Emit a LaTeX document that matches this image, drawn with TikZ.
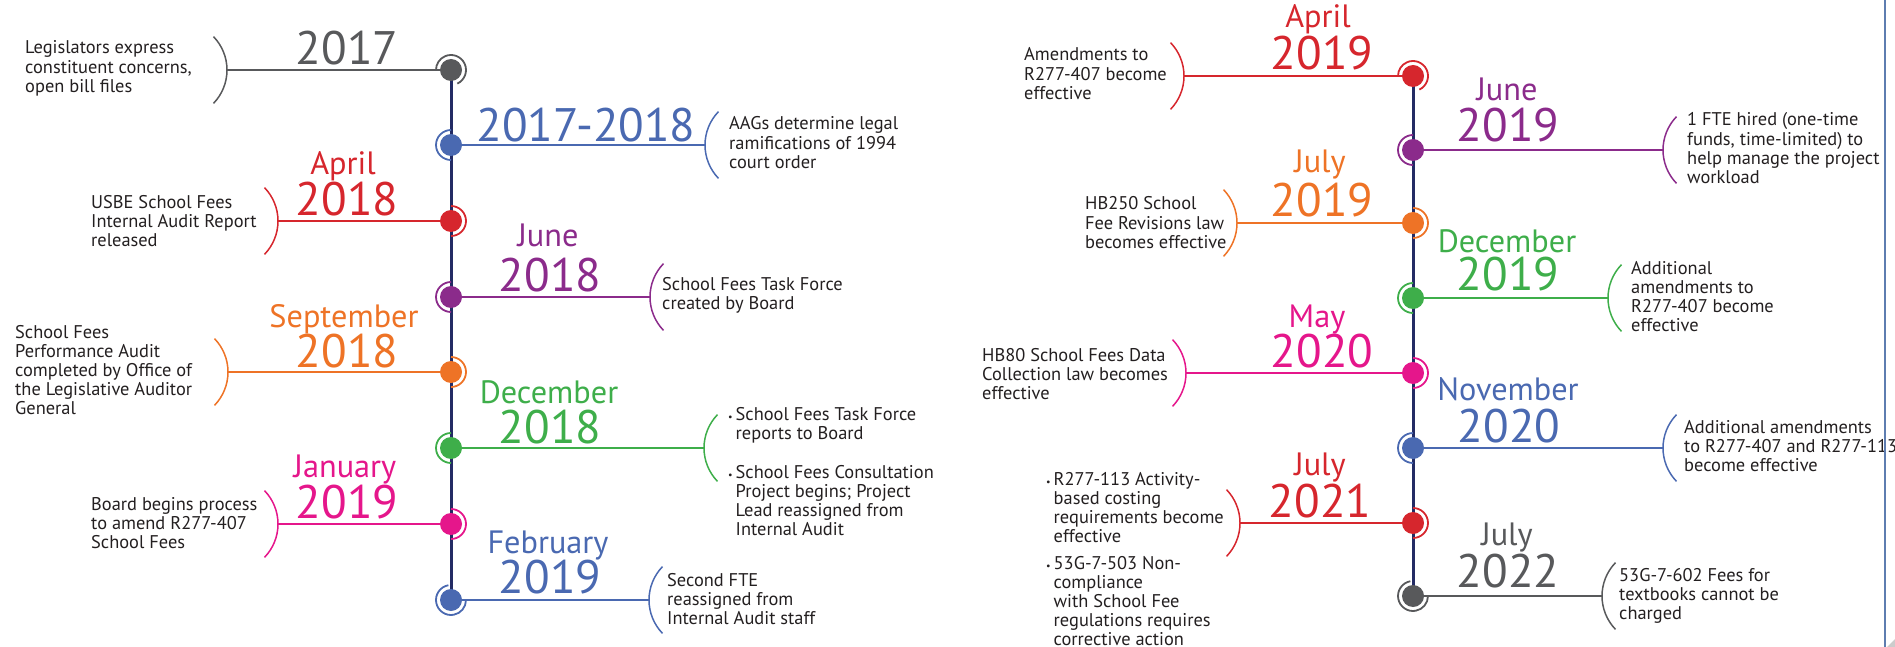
\documentclass[tikz,border=0pt]{standalone}
\usepackage{fontspec}
\setmainfont{PT Sans}
\usetikzlibrary{backgrounds}
\definecolor{cgray}{HTML}{58595B}
\definecolor{cblue}{HTML}{4A69B1}
\definecolor{cred}{HTML}{D6262D}
\definecolor{cpurple}{HTML}{8B2B8B}
\definecolor{corange}{HTML}{EE7326}
\definecolor{cgreen}{HTML}{3EAE4A}
\definecolor{cmag}{HTML}{E5168B}
\definecolor{cnavy}{HTML}{232B64}
\definecolor{ctxt}{HTML}{231F20}
\definecolor{cedge}{HTML}{5E7DB0}
\newcommand{\brR}[2]{%
  \draw[bracket=#2] (#1) arc[start angle=0,end angle=44,radius=48];
  \draw[bracket=#2] (#1) arc[start angle=0,end angle=-44,radius=48];}
\newcommand{\brL}[2]{%
  \draw[bracket=#2] (#1) arc[start angle=180,end angle=136,radius=48];
  \draw[bracket=#2] (#1) arc[start angle=180,end angle=224,radius=48];}
\newcommand{\bul}{\makebox[7.5pt][l]{\fontsize{10}{10}\selectfont\textbullet}}
\begin{document}
\begin{tikzpicture}[x=1pt,y=1pt,
  dot/.style={circle,fill=#1,minimum size=22pt,inner sep=0pt},
  conn/.style={draw=#1,line width=1.5pt},
  bracket/.style={draw=#1,line width=1.5pt},
  ringst/.style={draw=#1,line width=1.8pt},
  axisline/.style={draw=cnavy,line width=3pt},
  year/.style={text=#1,font=\fontsize{47}{47}\selectfont,anchor=base,inner sep=0pt},
  month/.style={text=#1,font=\fontsize{32.3}{32.3}\selectfont,anchor=base,inner sep=0pt},
  desc/.style={text=ctxt,font=\fontsize{18.4}{19.1}\selectfont,anchor=base west,inner sep=0pt}]
\useasboundingbox (0,0) rectangle (1895,-647);

% ---------------- LEFT TIMELINE ----------------
\node[dot=cgray]   (d1) at (451,-70) {};
\node[dot=cblue]   (d2) at (451,-145) {};
\node[dot=cred]    (d3) at (451,-221) {};
\node[dot=cpurple] (d4) at (451,-297) {};
\node[dot=corange] (d5) at (451,-372) {};
\node[dot=cgreen]  (d6) at (451,-448) {};
\node[dot=cmag]    (d7) at (451,-524) {};
\node[dot=cblue]   (d8) at (451,-600) {};

\coordinate (b1) at (227,-70);
\coordinate (b2) at (705,-145);
\coordinate (b3) at (278,-221);
\coordinate (b4) at (650,-297);
\coordinate (b5) at (228,-372);
\coordinate (b6) at (704,-448);
\coordinate (b7) at (278,-524);
\coordinate (b8) at (649,-600);

% ---------------- RIGHT TIMELINE ----------------
\node[dot=cred]    (r1) at (1413,-76) {};
\node[dot=cpurple] (r2) at (1413,-150) {};
\node[dot=corange] (r3) at (1413,-223) {};
\node[dot=cgreen]  (r4) at (1413,-298) {};
\node[dot=cmag]    (r5) at (1413,-373) {};
\node[dot=cblue]   (r6) at (1413,-448) {};
\node[dot=cred]    (r7) at (1413,-523) {};
\node[dot=cgray]   (r8) at (1413,-596) {};

\coordinate (c1) at (1184,-76);
\coordinate (c2) at (1663,-150);
\coordinate (c3) at (1237,-223);
\coordinate (c4) at (1608,-298);
\coordinate (c5) at (1186,-373);
\coordinate (c6) at (1663,-448);
\coordinate (c7) at (1240,-523);
\coordinate (c8) at (1602,-596);

\begin{pgfonlayer}{background}
  \draw[axisline] (d1.center) -- (d8.center);
  \draw[axisline] (r1.center) -- (r8.center);
  \draw[conn=cgray]   (d1.center) -- (b1);
  \draw[conn=cblue]   (d2.center) -- (b2);
  \draw[conn=cred]    (d3.center) -- (b3);
  \draw[conn=cpurple] (d4.center) -- (b4);
  \draw[conn=corange] (d5.center) -- (b5);
  \draw[conn=cgreen]  (d6.center) -- (b6);
  \draw[conn=cmag]    (d7.center) -- (b7);
  \draw[conn=cblue]   (d8.center) -- (b8);
  \draw[conn=cred]    (r1.center) -- (c1);
  \draw[conn=cpurple] (r2.center) -- (c2);
  \draw[conn=corange] (r3.center) -- (c3);
  \draw[conn=cgreen]  (r4.center) -- (c4);
  \draw[conn=cmag]    (r5.center) -- (c5);
  \draw[conn=cblue]   (r6.center) -- (c6);
  \draw[conn=cred]    (r7.center) -- (c7);
  \draw[conn=cgray]   (r8.center) -- (c8);
\end{pgfonlayer}

% brackets
\brR{b1}{cgray} \brL{b2}{cblue} \brR{b3}{cred} \brL{b4}{cpurple}
\brR{b5}{corange} \brL{b6}{cgreen} \brR{b7}{cmag} \brL{b8}{cblue}
\brR{c1}{cred} \brL{c2}{cpurple} \brR{c3}{corange} \brL{c4}{cgreen}
\brR{c5}{cmag} \brL{c6}{cblue} \brR{c7}{cred} \brL{c8}{cgray}

% rings
\draw[ringst=cgray]   (d1.center) ++(-65:15) arc[start angle=-65,end angle=180,radius=15];
\draw[ringst=cblue]   (d2.center) ++(90:15) arc[start angle=90,end angle=270,radius=15];
\draw[ringst=cred]    (d3.center) ++(90:15) arc[start angle=90,end angle=-90,radius=15];
\draw[ringst=cpurple] (d4.center) ++(90:15) arc[start angle=90,end angle=270,radius=15];
\draw[ringst=corange] (d5.center) ++(90:15) arc[start angle=90,end angle=-90,radius=15];
\draw[ringst=cgreen]  (d6.center) ++(90:15) arc[start angle=90,end angle=270,radius=15];
\draw[ringst=cmag]    (d7.center) ++(90:15) arc[start angle=90,end angle=-90,radius=15];
\draw[ringst=cblue]   (d8.center) ++(100:15) arc[start angle=100,end angle=360,radius=15];
\draw[ringst=cred]    (r1.center) ++(-65:15) arc[start angle=-65,end angle=180,radius=15];
\draw[ringst=cpurple] (r2.center) ++(90:15) arc[start angle=90,end angle=270,radius=15];
\draw[ringst=corange] (r3.center) ++(90:15) arc[start angle=90,end angle=-90,radius=15];
\draw[ringst=cgreen]  (r4.center) ++(90:15) arc[start angle=90,end angle=270,radius=15];
\draw[ringst=cmag]    (r5.center) ++(90:15) arc[start angle=90,end angle=-90,radius=15];
\draw[ringst=cblue]   (r6.center) ++(90:15) arc[start angle=90,end angle=270,radius=15];
\draw[ringst=cred]    (r7.center) ++(90:15) arc[start angle=90,end angle=-90,radius=15];
\draw[ringst=cgray]   (r8.center) ++(100:15) arc[start angle=100,end angle=360,radius=15];

% ---------------- LABELS LEFT ----------------
\node[year=cgray] (y1) at (347,-65) {2017};
\node[year=cblue] (y2) at (586,-142) {2017-2018};
\node[month=cred] (m3) at (343,-175) {April};
\node[year=cred] (y3) at (347,-215) {2018};
\node[month=cpurple] (m4) at (548,-247) {June};
\node[year=cpurple] (y4) at (550,-291) {2018};
\node[month=corange] (m5) at (344,-327) {September};
\node[year=corange] (y5) at (347,-367) {2018};
\node[month=cgreen] (m6) at (549,-403) {December};
\node[year=cgreen] (y6) at (550,-443) {2018};
\node[month=cmag] (m7) at (345,-477) {January};
\node[year=cmag] (y7) at (347,-518) {2019};
\node[month=cblue] (m8) at (548,-553) {February};
\node[year=cblue] (y8) at (550,-593) {2019};

\node[desc] (t1) at (25,-54) {\begin{tabular}[t]{@{}l@{}}Legislators express\\constituent concerns,\\open bill files\end{tabular}};
\node[desc] (t2) at (729,-130) {\begin{tabular}[t]{@{}l@{}}AAGs determine legal\\ramifications of 1994\\court order\end{tabular}};
\node[desc] (t3) at (91,-208) {\begin{tabular}[t]{@{}l@{}}USBE School Fees\\Internal Audit Report\\released\end{tabular}};
\node[desc] (t4) at (662,-290) {\begin{tabular}[t]{@{}l@{}}School Fees Task Force\\created by Board\end{tabular}};
\node[desc] (t5) at (15,-338) {\begin{tabular}[t]{@{}l@{}}School Fees\\Performance Audit\\completed by Office of\\the Legislative Auditor\\General\end{tabular}};
\node[desc] (t6) at (728,-420) {\begin{tabular}[t]{@{}l@{}l@{}}\bul & School Fees Task Force\\ & reports to Board\\[20pt] \bul & School Fees Consultation\\ & Project begins; Project\\ & Lead reassigned from\\ & Internal Audit\end{tabular}};
\node[desc] (t7) at (91,-510) {\begin{tabular}[t]{@{}l@{}}Board begins process\\to amend R277-407\\School Fees\end{tabular}};
\node[desc] (t8) at (667,-586) {\begin{tabular}[t]{@{}l@{}}Second FTE\\reassigned from\\Internal Audit staff\end{tabular}};

% ---------------- LABELS RIGHT ----------------
\node[month=cred] (n1) at (1318,-28) {April};
\node[year=cred] (z1) at (1322,-70) {2019};
\node[month=cpurple] (n2) at (1507,-101) {June};
\node[year=cpurple] (z2) at (1508,-142) {2019};
\node[month=corange] (n3) at (1320,-173) {July};
\node[year=corange] (z3) at (1322,-217) {2019};
\node[month=cgreen] (n4) at (1507,-252) {December};
\node[year=cgreen] (z4) at (1508,-290) {2019};
\node[month=cmag] (n5) at (1317,-327) {May};
\node[year=cmag] (z5) at (1322,-367) {2020};
\node[month=cblue] (n6) at (1508,-400) {November};
\node[year=cblue] (z6) at (1509,-442) {2020};
\node[month=cred] (n7) at (1320,-475) {July};
\node[year=cred] (z7) at (1320,-517) {2021};
\node[month=cgray] (n8) at (1507,-545) {July};
\node[year=cgray] (z8) at (1508,-587) {2022};

\node[desc] (s1) at (1024,-61) {\begin{tabular}[t]{@{}l@{}}Amendments to\\R277-407 become\\effective\end{tabular}};
\node[desc] (s2) at (1687,-126) {\begin{tabular}[t]{@{}l@{}}1 FTE hired (one-time\\funds, time-limited) to\\help manage the project\\workload\end{tabular}};
\node[desc] (s3) at (1085,-210) {\begin{tabular}[t]{@{}l@{}}HB250 School\\Fee Revisions law\\becomes effective\end{tabular}};
\node[desc] (s4) at (1631,-274) {\begin{tabular}[t]{@{}l@{}}Additional\\amendments to\\R277-407 become\\effective\end{tabular}};
\node[desc] (s5) at (982,-361) {\begin{tabular}[t]{@{}l@{}}HB80 School Fees Data\\Collection law becomes\\effective\end{tabular}};
\node[desc] (s6) at (1684,-433) {\begin{tabular}[t]{@{}l@{}}Additional amendments\\to R277-407 and R277-113\\become effective\end{tabular}};
\node[desc] (s7) at (1046,-485) {\begin{tabular}[t]{@{}l@{}l@{}}\bul & R277-113 Activity-\\ & based costing\\ & requirements become\\ & effective\\[8pt] \bul & 53G-7-503 Non-\\ & compliance\\ & with School Fee\\ & regulations requires\\ & corrective action\end{tabular}};
\node[desc] (s8) at (1619,-581) {\begin{tabular}[t]{@{}l@{}}53G-7-602 Fees for\\textbooks cannot be\\charged\end{tabular}};

% right frame edge
\draw[cedge,line width=1.5pt] (1885,0) -- (1885,-647);
\fill[gray!40] (1887,-647) -- (1895,-639) -- (1895,-647) -- cycle;
\end{tikzpicture}
\end{document}
